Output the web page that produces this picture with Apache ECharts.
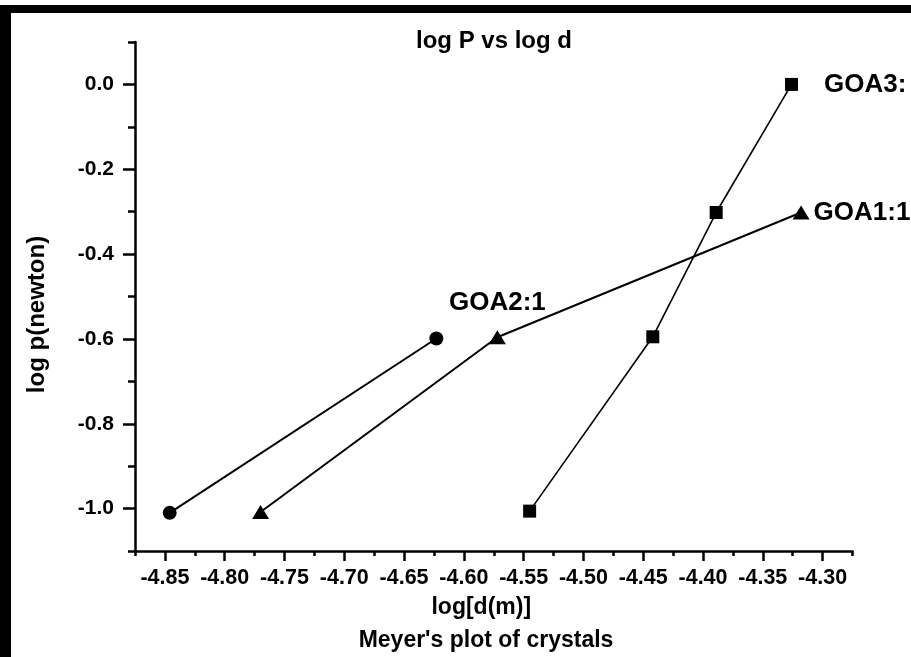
<!DOCTYPE html>
<html>
<head>
<meta charset="utf-8">
<script src="https://cdn.jsdelivr.net/npm/echarts@6/dist/echarts.min.js"></script>
<style>html,body{margin:0;padding:0;background:#fff;}#c{width:911px;height:657px;}</style>
</head>
<body>
<div id="c"></div>
<script>
// ---- data ----
const goa2X = [-4.846, -4.623];
const goa2Y = [-1.010, -0.599];
const goa1X = [-4.770, -4.572, -4.318];
const goa1Y = [-1.008, -0.596, -0.302];
const goa3X = [-4.545, -4.442, -4.389, -4.326];
const goa3Y = [-1.006, -0.595, -0.302, 0.0];
const xMajorTicks = [-4.85, -4.80, -4.75, -4.70, -4.65, -4.60, -4.55, -4.50, -4.45, -4.40, -4.35, -4.30];
const xMinorTicks = [-4.875, -4.825, -4.775, -4.725, -4.675, -4.625, -4.575, -4.525, -4.475, -4.425, -4.375, -4.325, -4.275];
const yMajorTicks = [0.0, -0.2, -0.4, -0.6, -0.8, -1.0];
const yMinorTicks = [0.1, -0.1, -0.3, -0.5, -0.7, -0.9, -1.1];
const seriesNames = ['GOA2:1', 'GOA1:1', 'GOA3:'];
const titleText = 'log P vs log d';
const xName = 'log[d(m)]';
const yName = 'log p(newton)';
const subTitle = "Meyer's plot of crystals";

const pairs = (xs, ys) => xs.map((x, i) => [x, ys[i]]);
const FONT = '"Liberation Sans", Arial, sans-serif';

const chart = echarts.init(document.getElementById('c'), null, {renderer: 'canvas'});
const xRange = {min: -4.875, max: -4.275};
const yRange = {min: -1.1, max: 0.1};

function lastLabel(data, label) {
  const d = data.map(p => ({value: p}));
  d[d.length - 1].label = label;
  return d;
}
const labelStyle = {show: true, color: '#000', fontFamily: FONT, fontSize: 26, fontWeight: 'bold'};

chart.setOption({
  backgroundColor: '#fff',
  animation: false,
  title: {
    text: titleText, left: 489, top: 24, textAlign: 'center',
    textStyle: {fontFamily: FONT, fontSize: 24, fontWeight: 'bold', color: '#000'}
  },
  grid: {left: 135, right: 58.5, top: 42, bottom: 106, containLabel: false},
  xAxis: [{
    type: 'value', min: xRange.min, max: xRange.max,
    name: xName, nameLocation: 'middle', nameGap: 45,
    nameTextStyle: {fontFamily: FONT, fontSize: 23, fontWeight: 'bold', color: '#000', padding: [0, 25, 0, 0]},
    axisLine: {show: true, onZero: false, lineStyle: {color: '#000', width: 2.5}},
    axisTick: {show: true, length: 10, lineStyle: {color: '#000', width: 2.5}, customValues: xMajorTicks},
    axisLabel: {show: true, margin: 16, fontFamily: FONT, fontSize: 21.5, fontWeight: 'bold', color: '#000',
      customValues: xMajorTicks, formatter: v => v.toFixed(2)},
    splitLine: {show: false}
  }, {
    type: 'value', min: xRange.min, max: xRange.max, position: 'bottom',
    axisLine: {show: false, onZero: false},
    axisTick: {show: true, length: 5, lineStyle: {color: '#000', width: 2.5}, customValues: xMinorTicks},
    axisLabel: {show: false}, splitLine: {show: false}
  }],
  yAxis: [{
    type: 'value', min: yRange.min, max: yRange.max,
    name: yName, nameLocation: 'middle', nameGap: 86,
    nameTextStyle: {fontFamily: FONT, fontSize: 24, fontWeight: 'bold', color: '#000', padding: [0, 36, 0, 0]},
    axisLine: {show: true, onZero: false, lineStyle: {color: '#000', width: 2.5}},
    axisTick: {show: true, length: 12, lineStyle: {color: '#000', width: 2.5}, customValues: yMajorTicks},
    axisLabel: {show: true, margin: 21, fontFamily: FONT, fontSize: 21, fontWeight: 'bold', color: '#000',
      customValues: yMajorTicks, formatter: v => v.toFixed(1)},
    splitLine: {show: false}
  }, {
    type: 'value', min: yRange.min, max: yRange.max, position: 'left',
    axisLine: {show: false, onZero: false},
    axisTick: {show: true, length: 7, lineStyle: {color: '#000', width: 2.5}, customValues: yMinorTicks},
    axisLabel: {show: false}, splitLine: {show: false}
  }],
  series: [{
    name: seriesNames[0], type: 'line', xAxisIndex: 0, yAxisIndex: 0,
    symbol: 'circle', symbolSize: 14,
    lineStyle: {color: '#000', width: 2}, itemStyle: {color: '#000'},
    data: lastLabel(pairs(goa2X, goa2Y), Object.assign({}, labelStyle, {position: 'inside', offset: [61, -36], formatter: seriesNames[0]})),
    label: {show: false}
  }, {
    name: seriesNames[1], type: 'line', xAxisIndex: 0, yAxisIndex: 0,
    symbol: 'triangle', symbolSize: [17, 14],
    lineStyle: {color: '#000', width: 2}, itemStyle: {color: '#000'},
    data: lastLabel(pairs(goa1X, goa1Y), Object.assign({}, labelStyle, {position: 'right', distance: 4, formatter: seriesNames[1]})),
    label: {show: false}
  }, {
    name: seriesNames[2], type: 'line', xAxisIndex: 0, yAxisIndex: 0,
    symbol: 'rect', symbolSize: 13,
    lineStyle: {color: '#000', width: 1.6}, itemStyle: {color: '#000'},
    data: lastLabel(pairs(goa3X, goa3Y), Object.assign({}, labelStyle, {position: 'right', distance: 26, formatter: seriesNames[2]})),
    label: {show: false}
  }],
  graphic: [
    {type: 'rect', left: 0, top: 5, shape: {width: 911, height: 8}, style: {fill: '#000'}, silent: true},
    {type: 'rect', left: 0, top: 5, shape: {width: 11, height: 652}, style: {fill: '#000'}, silent: true},
    {type: 'text', x: 486, y: 641, style: {text: subTitle, fontFamily: FONT, fontSize: 23, fontWeight: 'bold', fill: '#000', align: 'center', verticalAlign: 'middle'}, silent: true}
  ]
});
</script>
</body>
</html>
